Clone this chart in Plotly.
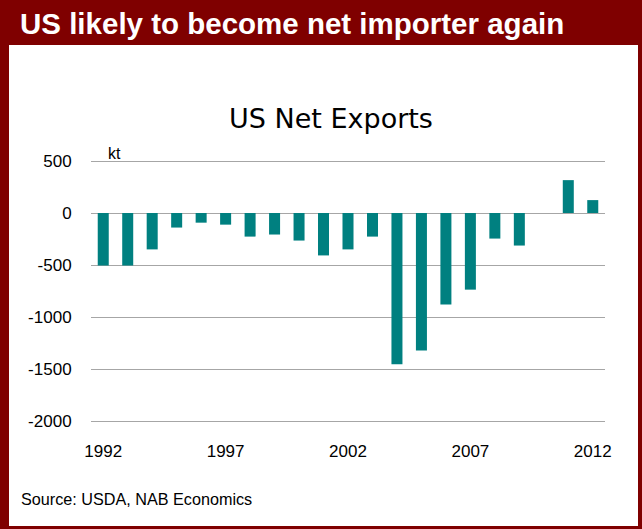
import plotly.graph_objects as go

years = list(range(1992, 2013))
net_exports = [-505, -505, -350, -140, -93, -112, -227, -207, -265, -408,
               -350, -227, -1455, -1321, -880, -737, -246, -313, None, 316, 124]
tick_years = [1992, 1997, 2002, 2007, 2012]
y_ticks = [500, 0, -500, -1000, -1500, -2000]
y_tick_text = ["500", "0", "-500", "-1000", "-1500", "-2000"]

W, H = 642, 529
L, R, T, B = 91, 37, 159, 106
PW, PH = W - L - R, H - T - B

def px(x):
    return (x - L) / PW

def py(y):
    return (H - B - y) / PH

RED = "#7f0000"
FONT = "Liberation Sans, Arial, sans-serif"

fig = go.Figure()
fig.add_trace(go.Bar(x=years, y=net_exports, marker=dict(color="#008080", line=dict(width=0)),
                     width=0.45))

shapes = [
    dict(type="rect", xref="paper", yref="paper", x0=px(0), x1=px(W), y0=py(H), y1=py(0),
         fillcolor=RED, line=dict(width=0), layer="below"),
    dict(type="rect", xref="paper", yref="paper", x0=px(9), x1=px(638), y0=py(526), y1=py(45),
         fillcolor="white", line=dict(width=0), layer="below"),
]

annotations = [
    dict(text="<b>US likely to become net importer again</b>", xref="paper", yref="paper",
         x=px(18), y=py(23), xanchor="left", yanchor="middle", showarrow=False,
         font=dict(family=FONT, size=29.5, color="white")),
    dict(text="US Net Exports", xref="paper", yref="paper", x=px(331), y=py(118),
         xanchor="center", yanchor="middle", showarrow=False,
         font=dict(family="DejaVu Sans, Verdana, sans-serif", size=27, color="#000000")),
    dict(text="kt", xref="paper", yref="paper", x=px(106), y=py(153),
         xanchor="left", yanchor="middle", showarrow=False,
         font=dict(family=FONT, size=16, color="#000000")),
    dict(text="Source: USDA, NAB Economics", xref="paper", yref="paper", x=px(19), y=py(499),
         xanchor="left", yanchor="middle", showarrow=False,
         font=dict(family=FONT, size=16.2, color="#000000")),
]

fig.update_layout(
    width=W, height=H,
    margin=dict(l=L, r=R, t=T, b=B, pad=0),
    paper_bgcolor="white", plot_bgcolor="rgba(0,0,0,0)",
    showlegend=False,
    shapes=shapes, annotations=annotations,
    font=dict(family=FONT, size=17, color="#000000"),
    xaxis=dict(range=[1991.5, 2012.5], tickmode="array", tickvals=tick_years,
               ticktext=[str(t) for t in tick_years], showgrid=False, zeroline=False,
               showline=False, ticks="outside", ticklen=0, ticklabelstandoff=13,
               tickfont=dict(family=FONT, size=17)),
    yaxis=dict(range=[-2019.2, 519.2], tickmode="array", tickvals=y_ticks, ticktext=y_tick_text,
               showgrid=True, gridcolor="#a6a6a6", gridwidth=1, zeroline=False,
               showline=False, ticks="outside", ticklen=0, ticklabelstandoff=15,
               tickfont=dict(family=FONT, size=17)),
)

fig.write_html("out.html")
